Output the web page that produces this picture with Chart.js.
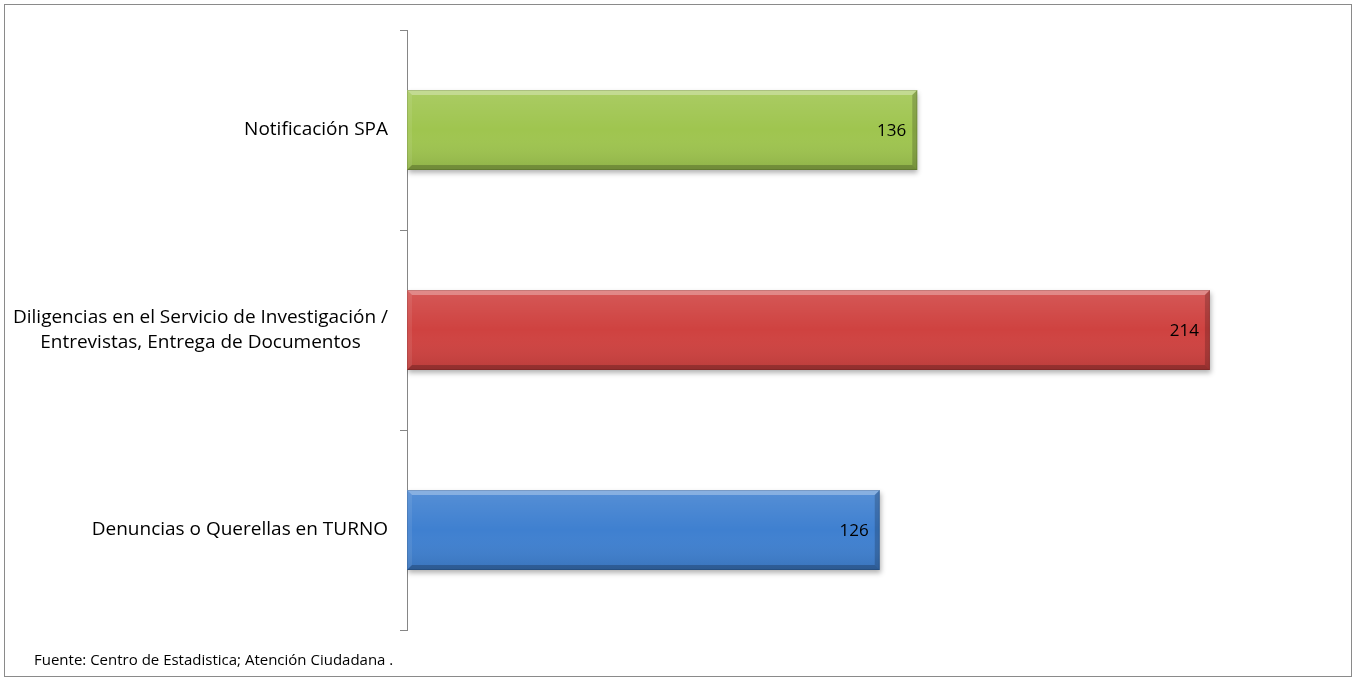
<!DOCTYPE html>
<html>
<head>
<meta charset="utf-8">
<script src="https://cdn.jsdelivr.net/npm/chart.js@4.4.1/dist/chart.umd.min.js"></script>
<style>
  html, body { margin: 0; padding: 0; background: #fff; }
  #wrap { position: relative; width: 1354px; height: 680px; }
  #frame { position: absolute; left: 4px; top: 4px; width: 1348px; height: 673px; border: 1px solid #8a8a8a; box-sizing: border-box; pointer-events: none; }
  #note { position: absolute; left: 34px; top: 649px; font-family: 'Open Sans', Lato, sans-serif; font-size: 15px; color: #000; }
  canvas { position: absolute; left: 0; top: 0; }
</style>
</head>
<body>
<div id="wrap">
  <canvas id="c" width="1354" height="680"></canvas>
  <div id="frame"></div>
  <div id="note">Fuente: Centro de Estadistica; Atención Ciudadana .</div>
</div>
<script>
const categories = [
  'Notificación SPA',
  ['Diligencias en el Servicio de Investigación /', 'Entrevistas, Entrega de Documentos'],
  'Denuncias o Querellas en TURNO'
];
const values = [136, 214, 126];
const axisMax = 250;

const barColors = ['#9fc54f', '#cf4240', '#3f80d0'];
const FONT = "'Open Sans', Lato, sans-serif";

const bevelPlugin = {
  id: 'bevel',
  beforeDatasetsDraw(chart) {
    const ctx = chart.ctx;
    ctx.save();
    ctx.shadowColor = 'rgba(0,0,0,0.3)';
    ctx.shadowBlur = 5;
    ctx.shadowOffsetX = 1;
    ctx.shadowOffsetY = 3;
  },
  afterDatasetsDraw(chart) {
    const ctx = chart.ctx;
    ctx.restore();
    const meta = chart.getDatasetMeta(0);
    meta.data.forEach((bar, i) => {
      const p = bar.getProps(['x', 'y', 'base', 'height'], true);
      const x0 = p.base, x1 = p.x, y0 = p.y - p.height / 2, y1 = p.y + p.height / 2;
      const b = 5;
      ctx.save();
      const g = ctx.createLinearGradient(0, y0, 0, y1);
      g.addColorStop(0, 'rgba(255,255,255,0.12)');
      g.addColorStop(0.5, 'rgba(255,255,255,0.0)');
      g.addColorStop(1, 'rgba(0,0,0,0.1)');
      ctx.fillStyle = g;
      ctx.fillRect(x0, y0, x1 - x0, y1 - y0);
      ctx.fillStyle = 'rgba(255,255,255,0.3)';
      ctx.beginPath();
      ctx.moveTo(x0, y0); ctx.lineTo(x1, y0); ctx.lineTo(x1 - b, y0 + b); ctx.lineTo(x0 + b, y0 + b); ctx.closePath(); ctx.fill();
      ctx.fillStyle = 'rgba(255,255,255,0.08)';
      ctx.beginPath();
      ctx.moveTo(x0, y0); ctx.lineTo(x0 + b, y0 + b); ctx.lineTo(x0 + b, y1 - b); ctx.lineTo(x0, y1); ctx.closePath(); ctx.fill();
      ctx.fillStyle = 'rgba(0,0,0,0.22)';
      ctx.beginPath();
      ctx.moveTo(x0, y1); ctx.lineTo(x1, y1); ctx.lineTo(x1 - b, y1 - b); ctx.lineTo(x0 + b, y1 - b); ctx.closePath(); ctx.fill();
      ctx.fillStyle = 'rgba(0,0,0,0.18)';
      ctx.beginPath();
      ctx.moveTo(x1, y0); ctx.lineTo(x1, y1); ctx.lineTo(x1 - b, y1 - b); ctx.lineTo(x1 - b, y0 + b); ctx.closePath(); ctx.fill();
      ctx.strokeStyle = 'rgba(0,0,0,0.12)';
      ctx.lineWidth = 1;
      ctx.strokeRect(x0 + 0.5, y0 + 0.5, x1 - x0 - 1, y1 - y0 - 1);
      ctx.fillStyle = '#000';
      ctx.font = '17px ' + FONT;
      ctx.textAlign = 'right';
      ctx.textBaseline = 'middle';
      ctx.fillText(String(values[i]), x1 - 11, p.y + 1);
      ctx.restore();
    });
  }
};

const labelPlugin = {
  id: 'catLabels',
  afterDraw(chart) {
    const ctx = chart.ctx;
    const scale = chart.scales.y;
    ctx.save();
    ctx.font = '19px ' + FONT;
    ctx.fillStyle = '#000';
    ctx.textBaseline = 'middle';
    ctx.textAlign = 'center';
    const right = 388;
    const lh = 25;
    categories.forEach((lab, i) => {
      const lines = Array.isArray(lab) ? lab : [lab];
      const w = Math.max(...lines.map(l => ctx.measureText(l).width));
      const cx = right - w / 2;
      const yc = scale.getPixelForTick(i);
      lines.forEach((l, k) => {
        ctx.fillText(l, cx, yc + (k - (lines.length - 1) / 2) * lh);
      });
    });
    ctx.restore();
  }
};

new Chart(document.getElementById('c'), {
  type: 'bar',
  data: {
    labels: categories,
    datasets: [{
      data: values,
      backgroundColor: barColors,
      borderWidth: 0,
      barPercentage: 0.4,
      categoryPercentage: 1.0
    }]
  },
  options: {
    indexAxis: 'y',
    responsive: false,
    animation: false,
    events: [],
    layout: { padding: { left: 0, top: 30, right: 9, bottom: 50 } },
    plugins: { legend: { display: false }, tooltip: { enabled: false } },
    scales: {
      x: { display: false, min: 0, max: axisMax },
      y: {
        afterFit(s) { s.width = 407; },
        ticks: { display: false },
        grid: { drawOnChartArea: false, drawTicks: true, tickLength: 7, color: '#868686', offset: true },
        border: { display: true, color: '#868686', width: 1 }
      }
    }
  },
  plugins: [bevelPlugin, labelPlugin]
});
</script>
</body>
</html>
